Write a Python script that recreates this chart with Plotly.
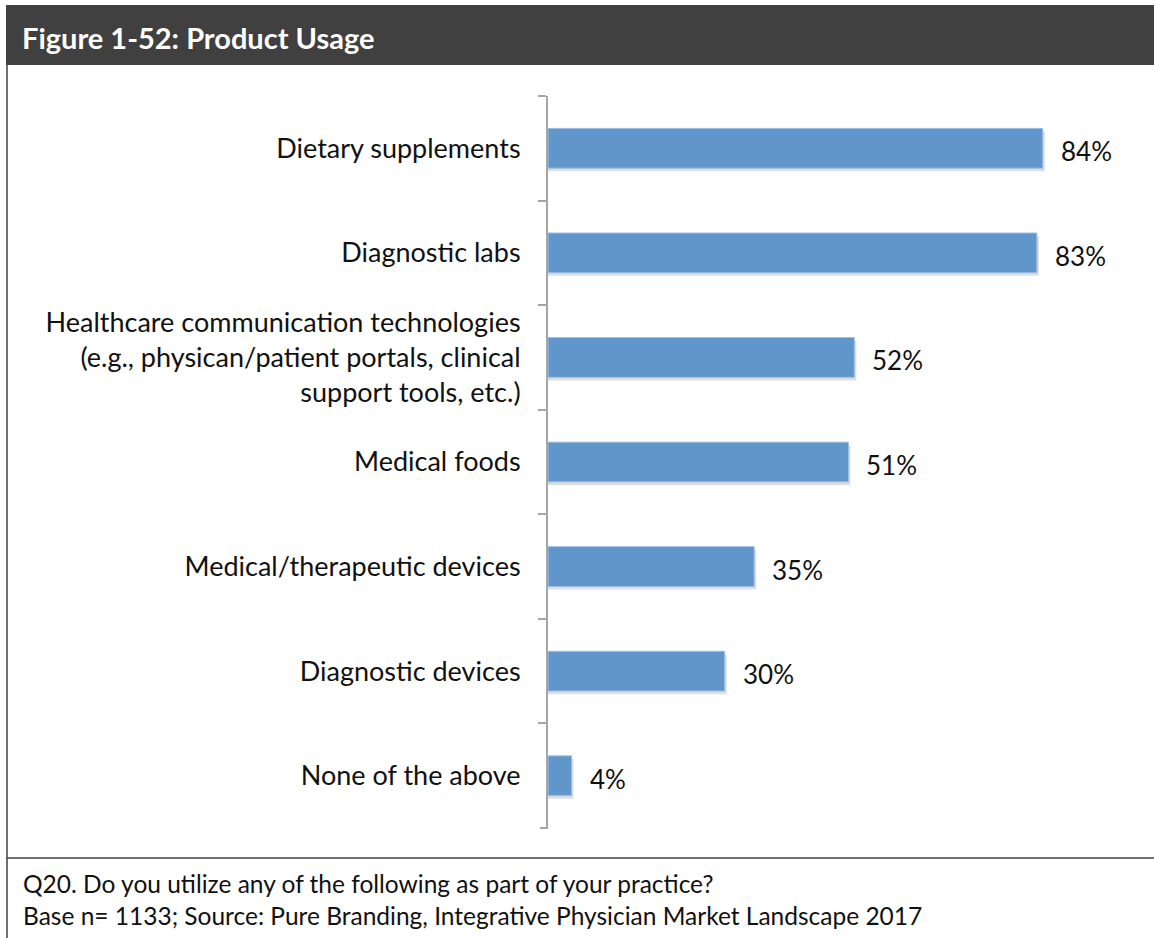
import plotly.graph_objects as go

categories = [
    "Dietary supplements",
    "Diagnostic labs",
    "Healthcare communication technologies<br>(e.g., physican/patient portals, clinical<br>support tools, etc.)",
    "Medical foods",
    "Medical/therapeutic devices",
    "Diagnostic devices",
    "None of the above",
]
values = [84, 83, 52, 51, 35, 30, 4]
value_labels = ["84%", "83%", "52%", "51%", "35%", "30%", "4%"]

title_text = "Figure 1-52: Product Usage"
footer_lines = [
    "Q20. Do you utilize any of the following as part of your practice?",
    "Base n= 1133; Source: Pure Branding, Integrative Physician Market Landscape 2017",
]

W, H = 1154, 938
L, R, T, B = 548, 1137, 96, 829
FONT = "Lato, 'Open Sans', sans-serif"


def px(x):
    return (x - L) / (R - L)


def py(y):
    return (B - y) / (B - T)


fig = go.Figure()
# soft shadow under each bar
fig.add_trace(go.Bar(
    y=categories,
    x=[v + 0.35 for v in values],
    orientation="h",
    width=0.38,
    offset=-0.19 + 0.03,
    marker=dict(color="rgba(0,0,0,0.13)", line=dict(width=0)),
    hoverinfo="skip",
))
fig.add_trace(go.Bar(
    y=categories,
    x=values,
    orientation="h",
    width=0.38,
    offset=-0.19,
    marker=dict(color="#6096C9", line=dict(color="#9CBEE0", width=1)),
    hoverinfo="skip",
))

for c, v, t in zip(categories, values, value_labels):
    fig.add_annotation(x=v, y=c, text=t, showarrow=False, xanchor="left",
                       xshift=16, yshift=-3, font=dict(family=FONT, size=26, color="#111111"))

shapes = [
    # header band
    dict(type="rect", xref="paper", yref="paper", x0=px(6), x1=px(1160), y0=py(65), y1=py(5),
         fillcolor="#404040", line=dict(width=0), layer="below"),
    # left border
    dict(type="line", xref="paper", yref="paper", x0=px(7), x1=px(7), y0=py(65), y1=py(945),
         line=dict(color="#404040", width=1.5)),
    # footer separator
    dict(type="line", xref="paper", yref="paper", x0=px(7), x1=px(1160), y0=py(858), y1=py(858),
         line=dict(color="#404040", width=1.5)),
    # bottom boundary tick
    dict(type="line", xref="paper", yref="y", x0=px(540), x1=0, y0=6.5, y1=6.5,
         line=dict(color="#A6A6A6", width=2)),
]

annotations = [
    dict(xref="paper", yref="paper", x=px(20), y=py(37), text="<b>" + title_text + "</b>",
         showarrow=False, xanchor="left", yanchor="middle",
         font=dict(family=FONT, size=29, color="white")),
    dict(xref="paper", yref="paper", x=px(21), y=py(883), text=footer_lines[0],
         showarrow=False, xanchor="left", yanchor="middle",
         font=dict(family=FONT, size=24.5, color="#111111")),
    dict(xref="paper", yref="paper", x=px(21), y=py(915), text=footer_lines[1],
         showarrow=False, xanchor="left", yanchor="middle",
         font=dict(family=FONT, size=24.5, color="#111111")),
]
for a in annotations:
    fig.add_annotation(**a)

fig.update_layout(
    width=W, height=H,
    margin=dict(l=L, r=W - R, t=T, b=H - B, pad=0),
    paper_bgcolor="white", plot_bgcolor="white",
    showlegend=False,
    barmode="overlay",
    shapes=shapes,
    xaxis=dict(range=[0, 100], visible=False, fixedrange=True),
    yaxis=dict(
        autorange="reversed",
        showline=True, linecolor="#A6A6A6", linewidth=2,
        ticks="outside", ticklen=8, tickcolor="#A6A6A6", tickwidth=2,
        tickson="boundaries",
        ticklabelstandoff=20,
        showgrid=False, zeroline=False,
        tickfont=dict(family=FONT, size=27, color="#111111"),
    ),
)

fig.write_html("out.html")
